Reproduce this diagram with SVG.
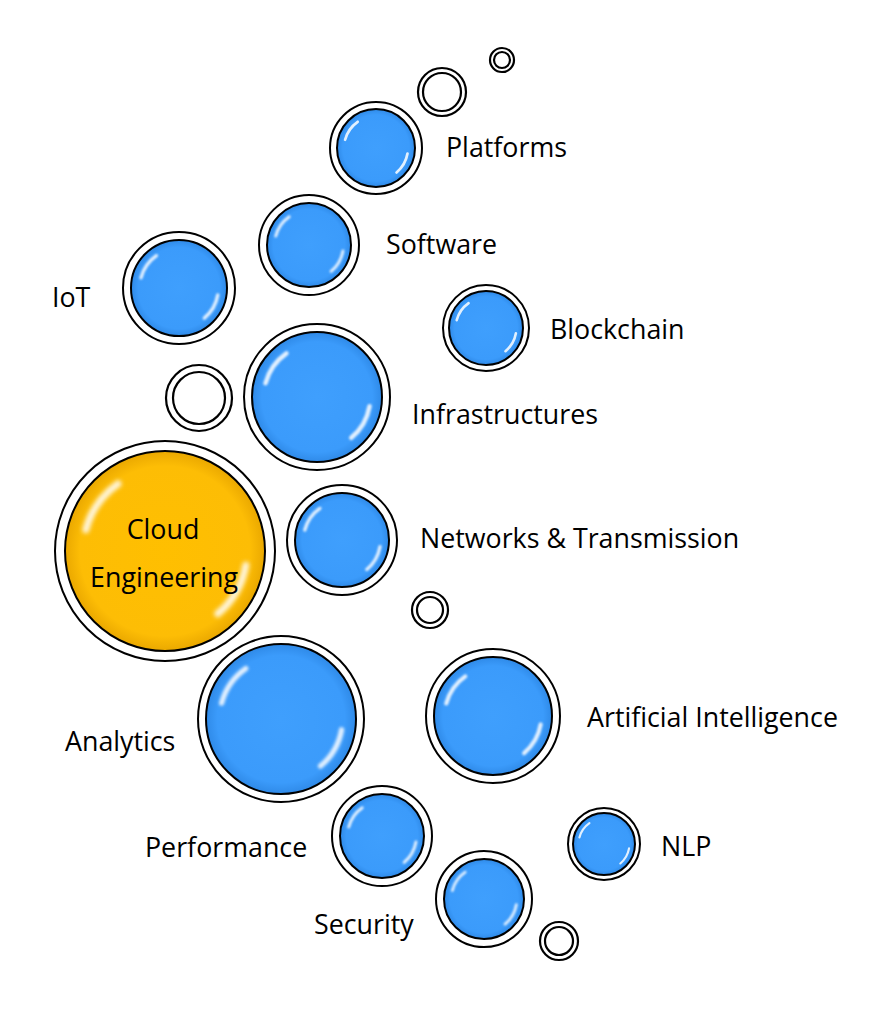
<svg xmlns="http://www.w3.org/2000/svg" xmlns:xlink="http://www.w3.org/1999/xlink" width="883" height="1016" viewBox="0 0 883 1016">
<style>
.ring{fill:#fff;stroke:#000;stroke-width:2}
.blue{fill:url(#gBlue);stroke:#000;stroke-width:2}
.gold{fill:url(#gGold);stroke:#000;stroke-width:2}
.empty{fill:#fff;stroke:#000;stroke-width:2.2}
.lbl{font-family:"Open Sans",Lato,"Liberation Sans",sans-serif;font-size:26.8px;fill:#000}
.ctr{font-family:"Open Sans",Lato,"Liberation Sans",sans-serif;font-size:26.8px;fill:#000;text-anchor:middle}
</style>
<defs>
<radialGradient id="gBlue" cx="0.5" cy="0.5" r="0.5">
<stop offset="0" stop-color="#3f9ffd"/>
<stop offset="0.85" stop-color="#3b9bfb"/>
<stop offset="1" stop-color="#2f8ae8"/>
</radialGradient>
<radialGradient id="gGold" cx="0.5" cy="0.5" r="0.5">
<stop offset="0" stop-color="#ffbf00"/>
<stop offset="0.85" stop-color="#fdbd05"/>
<stop offset="1" stop-color="#eaa800"/>
</radialGradient>
<filter id="soft" x="-20%" y="-20%" width="140%" height="140%"><feGaussianBlur stdDeviation="0.02"/></filter>
<symbol id="hl" viewBox="-1 -1 2 2" overflow="visible">
<g fill="none" stroke="#fff" stroke-linecap="round" stroke-width="0.07" opacity="0.85" filter="url(#soft)">
<path d="M -0.792 -0.212 A 0.82 0.82 0 0 1 -0.470 -0.672"/>
<path d="M 0.808 0.143 A 0.82 0.82 0 0 1 0.527 0.628"/>
</g>
</symbol>
</defs>

<g id="dot1"><circle class="empty" cx="502" cy="60" r="12"/><circle class="empty" cx="502" cy="60" r="8"/></g>
<g id="dot2"><circle class="empty" cx="442" cy="92" r="24"/><circle class="empty" cx="442" cy="92" r="19"/></g>

<g id="platforms"><circle class="ring" cx="376" cy="148" r="46"/><circle class="blue" cx="376" cy="148" r="39"/><use xlink:href="#hl" x="337" y="109" width="78" height="78"/><text class="lbl" x="446" y="157">Platforms</text></g>

<g id="software"><circle class="ring" cx="309" cy="245" r="50"/><circle class="blue" cx="309" cy="245" r="42"/><use xlink:href="#hl" x="267" y="203" width="84" height="84"/><text class="lbl" x="386" y="254">Software</text></g>

<g id="iot"><circle class="ring" cx="179" cy="288" r="56"/><circle class="blue" cx="179" cy="288" r="48"/><use xlink:href="#hl" x="131" y="240" width="96" height="96"/><text class="lbl" x="52" y="307">IoT</text></g>

<g id="blockchain"><circle class="ring" cx="486" cy="328" r="43"/><circle class="blue" cx="486" cy="328" r="37"/><use xlink:href="#hl" x="449" y="291" width="74" height="74"/><text class="lbl" x="550" y="339">Blockchain</text></g>

<g id="dot3"><circle class="empty" cx="199" cy="398" r="33"/><circle class="empty" cx="199" cy="398" r="26"/></g>

<g id="infrastructures"><circle class="ring" cx="317" cy="397" r="73"/><circle class="blue" cx="317" cy="397" r="65"/><use xlink:href="#hl" x="252" y="332" width="130" height="130"/><text class="lbl" x="412" y="424">Infrastructures</text></g>

<g id="cloud"><circle class="ring" cx="165" cy="551" r="110"/><circle class="gold" cx="165" cy="551" r="100"/><use xlink:href="#hl" x="65" y="451" width="200" height="200"/><text class="ctr" x="163" y="539">Cloud</text><text class="ctr" x="164" y="587">Engineering</text></g>

<g id="networks"><circle class="ring" cx="342" cy="540" r="55"/><circle class="blue" cx="342" cy="540" r="47"/><use xlink:href="#hl" x="295" y="493" width="94" height="94"/><text class="lbl" x="420" y="548">Networks &amp; Transmission</text></g>

<g id="dot4"><circle class="empty" cx="430" cy="610" r="18"/><circle class="empty" cx="430" cy="610" r="13"/></g>

<g id="analytics"><circle class="ring" cx="281" cy="719" r="83"/><circle class="blue" cx="281" cy="719" r="75"/><use xlink:href="#hl" x="206" y="644" width="150" height="150"/><text class="lbl" x="65" y="751">Analytics</text></g>

<g id="ai"><circle class="ring" cx="493" cy="716" r="67"/><circle class="blue" cx="493" cy="716" r="59"/><use xlink:href="#hl" x="434" y="657" width="118" height="118"/><text class="lbl" x="587" y="727">Artificial Intelligence</text></g>

<g id="performance"><circle class="ring" cx="382" cy="836" r="50"/><circle class="blue" cx="382" cy="836" r="42"/><use xlink:href="#hl" x="340" y="794" width="84" height="84"/><text class="lbl" x="145" y="857">Performance</text></g>

<g id="nlp"><circle class="ring" cx="604" cy="844" r="36"/><circle class="blue" cx="604" cy="844" r="31"/><use xlink:href="#hl" x="573" y="813" width="62" height="62"/><text class="lbl" x="661" y="856">NLP</text></g>

<g id="security"><circle class="ring" cx="484" cy="899" r="48"/><circle class="blue" cx="484" cy="899" r="40"/><use xlink:href="#hl" x="444" y="859" width="80" height="80"/><text class="lbl" x="314" y="934">Security</text></g>

<g id="dot5"><circle class="empty" cx="559" cy="941" r="19"/><circle class="empty" cx="559" cy="941" r="14"/></g>
</svg>
